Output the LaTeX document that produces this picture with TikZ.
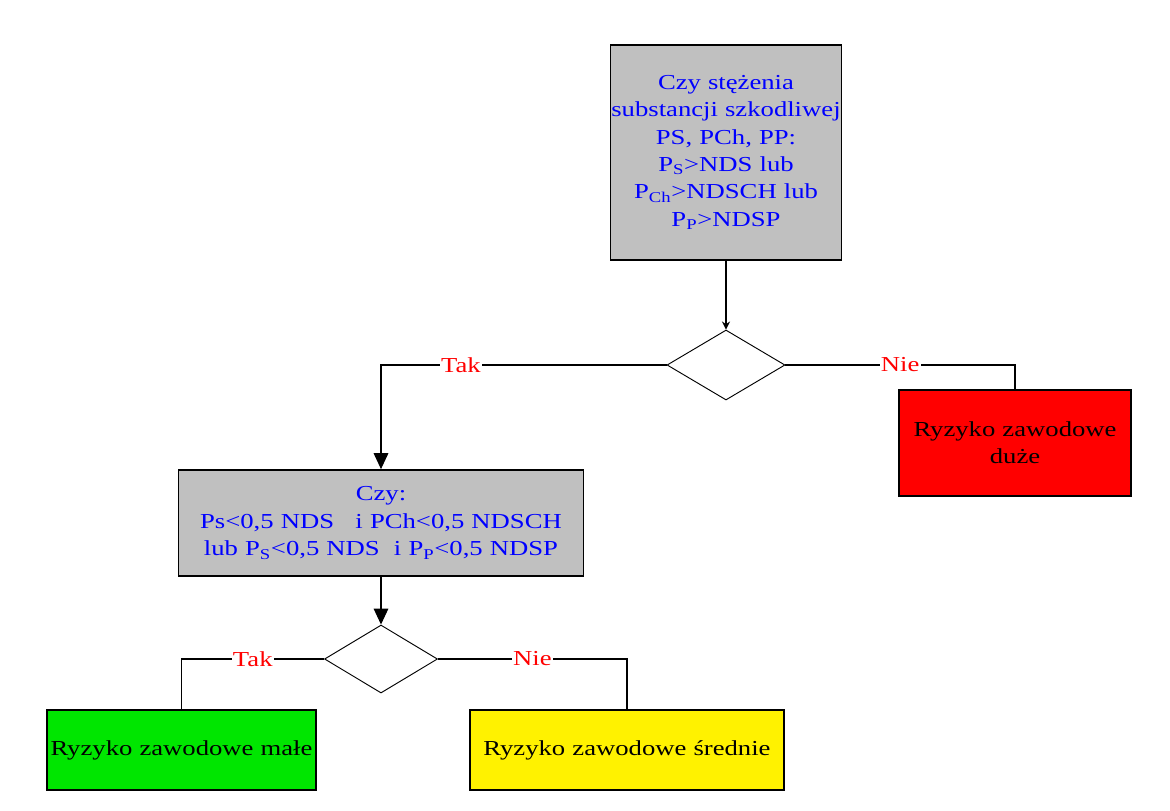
\documentclass[tikz,border=0pt]{standalone}
\usepackage{fontspec}
\setmainfont{Liberation Serif}[FakeStretch=1.25]
\usetikzlibrary{shapes.geometric,arrows.meta}
\definecolor{boxgray}{RGB}{192,192,192}
\definecolor{boxgreen}{RGB}{0,230,0}
\begin{document}
\begin{tikzpicture}[x=0.75pt,y=-0.75pt,
  every node/.style={font=\fontsize{16}{20.5}\selectfont},
  qbox/.style={draw=black,line width=1.3pt,fill=boxgray,text=blue,align=center,inner sep=0pt},
  rbox/.style={draw=black,line width=1.3pt,align=center,inner sep=0pt},
  dia/.style={draw=black,line width=0.7pt,shape=diamond,inner sep=0pt},
  conn/.style={draw=black,line width=0.9pt},
  lab/.style={fill=white,text=red,inner sep=1pt},
  bigarrow/.style={conn,-{Triangle[length=12pt,width=11pt]}},
  smallarrow/.style={conn,-{Stealth[length=6pt,width=6pt]}}
]
\useasboundingbox (0,0) rectangle (1170,810);
\fill[white] (0,0) rectangle (1170,810);

\node[qbox,minimum width=173.25pt,minimum height=161.25pt,text width=173.25pt] (top) at (726,152.5)
  {Czy stężenia\\substancji szkodliwej\\PS, PCh, PP:\\P\textsubscript{S}>NDS lub\\P\textsubscript{Ch}>NDSCH lub\\P\textsubscript{P}>NDSP};

\node[dia,minimum width=88.5pt,minimum height=52.5pt] (d1) at (726,365) {};

\node[rbox,fill=red,minimum width=174pt,minimum height=79.5pt,text width=174pt] (duze) at (1015,443)
  {Ryzyko zawodowe\\duże};

\node[qbox,minimum width=303.75pt,minimum height=79.5pt,text width=303.75pt] (q2) at (381,523)
  {Czy:\\Ps<0,5 NDS \ \ i PCh<0,5 NDSCH\\lub P\textsubscript{S}<0,5 NDS \ i P\textsubscript{P}<0,5 NDSP};

\node[dia,minimum width=84.75pt,minimum height=51pt] (d2) at (381,659) {};

\node[rbox,fill=boxgreen,minimum width=201.75pt,minimum height=60pt,text width=201.75pt] (male) at (181.5,750)
  {Ryzyko zawodowe małe};

\node[rbox,fill=yellow,minimum width=235.5pt,minimum height=60pt,text width=235.5pt] (srednie) at (627,750)
  {Ryzyko zawodowe średnie};

\draw[smallarrow] (top.south) -- (d1.north);
\draw[bigarrow] (d1.west) -| node[lab,pos=0.36] {Tak} (q2.north);
\draw[conn] (d1.east) -| node[lab,pos=0.25] {Nie} (duze.north);
\draw[bigarrow] (q2.south) -- (d2.north);
\draw[conn] (d2.west) -| node[lab,pos=0.25] {Tak} (male.north);
\draw[conn] (d2.east) -| node[lab,pos=0.25] {Nie} (srednie.north);
\end{tikzpicture}
\end{document}
